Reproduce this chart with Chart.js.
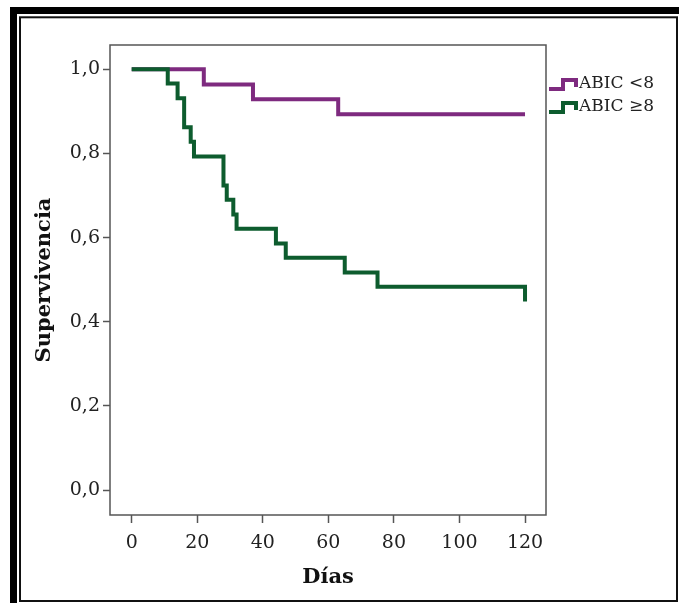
<!DOCTYPE html>
<html>
<head>
<meta charset="utf-8">
<script src="https://cdn.jsdelivr.net/npm/chart.js@4"></script>
<style>body{margin:0;background:#fff}canvas{display:block}</style>
</head>
<body>
<canvas id="km" width="679" height="603"></canvas>
<script>
'use strict';

const series_labels = ['ABIC <8', 'ABIC \u22658'];
const series_colors = ['#7e2a7f', '#0d5c2e'];

// ABIC <8 : dias / supervivencia acumulada
const low_days = [0, 22, 37, 63, 120];
const low_surv = [1.0, 0.964, 0.929, 0.893, 0.893];

// ABIC >=8
const high_days = [0, 11, 14, 16, 18, 19, 28, 29, 31, 32, 44, 47, 65, 75, 120, 120];
const high_surv = [1.0, 0.966, 0.931, 0.862, 0.828, 0.793, 0.724, 0.690, 0.655, 0.621, 0.586, 0.552, 0.517, 0.483, 0.483, 0.448];

const x_ticks = [0, 20, 40, 60, 80, 100, 120];
const y_ticks = [0, 0.2, 0.4, 0.6, 0.8, 1.0];

const serif = '"DejaVu Serif", serif';

function points(days, surv){
    return days.map((d, i) => ({x: d, y: surv[i]}));
}

// white page + black frame (SPSS export look)
const framePlugin = {
    id: 'frame',
    beforeDraw(chart){
        const ctx = chart.ctx;
        ctx.save();
        ctx.fillStyle = '#fff';
        ctx.fillRect(0, 0, chart.width, chart.height);
        ctx.fillStyle = '#000';
        ctx.fillRect(10, 7, 7, 596);
        ctx.fillRect(10, 7, 669, 7);
        ctx.strokeStyle = '#111';
        ctx.lineWidth = 2;
        ctx.strokeRect(20, 17.3, 657, 583.7);
        ctx.restore();
    },
    beforeDatasetsDraw(chart){
        const a = chart.chartArea;
        const ctx = chart.ctx;
        ctx.save();
        ctx.strokeStyle = '#555';
        ctx.lineWidth = 1.5;
        ctx.strokeRect(a.left, a.top, a.right - a.left, a.bottom - a.top);
        ctx.restore();
    }
};

// step-shaped legend keys to the right of the plot
const stepLegend = {
    id: 'stepLegend',
    afterDraw(chart){
        const ctx = chart.ctx;
        const rows = [84, 107];
        ctx.save();
        chart.data.datasets.forEach((ds, i) => {
            const yc = rows[i];
            ctx.strokeStyle = ds.borderColor;
            ctx.lineWidth = 4;
            ctx.lineJoin = 'miter';
            ctx.beginPath();
            ctx.moveTo(549, yc + 5);
            ctx.lineTo(563, yc + 5);
            ctx.lineTo(563, yc - 4);
            ctx.lineTo(576, yc - 4);
            ctx.lineTo(576, yc + 3);
            ctx.stroke();
            ctx.fillStyle = '#222';
            ctx.font = '17px ' + serif;
            ctx.textBaseline = 'middle';
            ctx.fillText(ds.label, 579, yc);
        });
        ctx.restore();
    }
};

const ctx = document.getElementById('km').getContext('2d');

const chart = new Chart(ctx, {
    type: 'scatter',
    data: {
        datasets: [{
            label: series_labels[0],
            data: points(low_days, low_surv),
            borderColor: series_colors[0],
            order: 1
        }, {
            label: series_labels[1],
            data: points(high_days, high_surv),
            borderColor: series_colors[1],
            order: 0
        }]
    },
    options: {
        responsive: false,
        animation: false,
        showLine: true,
        layout: {padding: {left: 0, top: 45, right: 133, bottom: 0}},
        elements: {
            point: {radius: 0, hoverRadius: 0},
            line: {borderWidth: 4, stepped: 'before', fill: false, borderCapStyle: 'butt', borderJoinStyle: 'miter', tension: 0}
        },
        plugins: {
            legend: {display: false},
            tooltip: {enabled: false}
        },
        scales: {
            x: {
                type: 'linear',
                min: -6.62,
                max: 126.4,
                afterBuildTicks: s => { s.ticks = x_ticks.map(v => ({value: v})); },
                afterFit: s => { s.height = 88; },
                border: {display: false},
                grid: {drawOnChartArea: false, tickLength: 8, color: '#555', tickWidth: 1.5},
                ticks: {font: {family: serif, size: 19}, color: '#222', padding: 9, maxRotation: 0},
                title: {display: true, text: 'Días', color: '#111', font: {family: serif, size: 21, weight: 'bold'}, padding: {top: 0, bottom: 12.4}}
            },
            y: {
                type: 'linear',
                min: -0.0594,
                max: 1.0578,
                afterBuildTicks: s => { s.ticks = y_ticks.map(v => ({value: v})); },
                afterFit: s => { s.width = 110; },
                border: {display: false},
                grid: {drawOnChartArea: false, tickLength: 7, color: '#555', tickWidth: 1.5},
                ticks: {
                    font: {family: serif, size: 19}, color: '#222', padding: 3,
                    callback: v => v.toFixed(1).replace('.', ',')
                },
                title: {display: true, text: 'Supervivencia', color: '#111', font: {family: serif, size: 21, weight: 'bold'}, padding: {top: 32.4, bottom: 0}}
            }
        }
    },
    plugins: [framePlugin, stepLegend]
});
</script>
</body>
</html>
